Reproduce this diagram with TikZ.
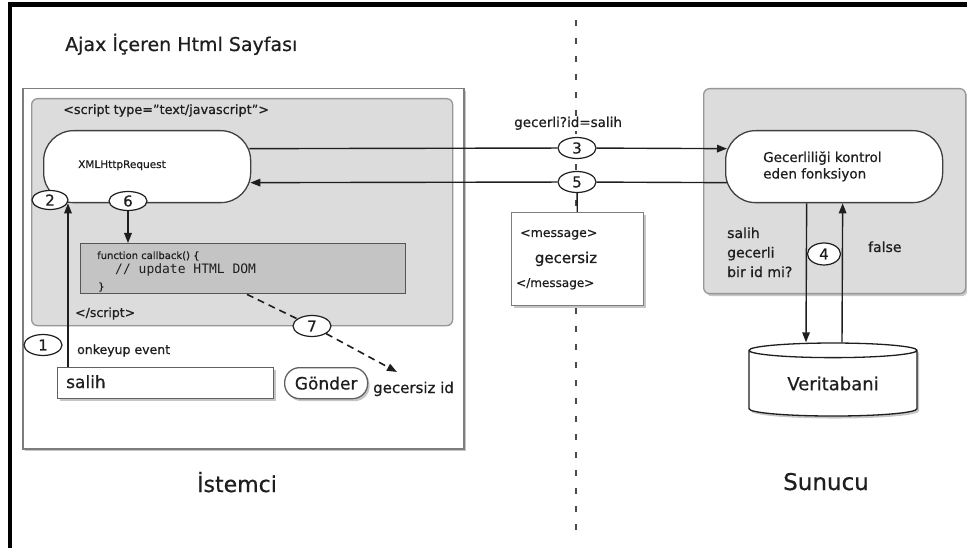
\documentclass[tikz,border=0pt]{standalone}
\usepackage{fontspec}
\setmainfont{DejaVu Sans}[FakeBold=0.6]
\setmonofont{DejaVu Sans Mono}
\usetikzlibrary{shapes.geometric,arrows.meta,shadows}

\definecolor{ink}{RGB}{30,30,30}
\definecolor{panel}{RGB}{220,220,220}
\definecolor{codebg}{RGB}{196,196,196}
\definecolor{edge}{RGB}{125,125,125}
\newcommand{\txtsize}[1]{\fontsize{#1}{#1}\selectfont}

\tikzset{
  lbl/.style={inner sep=0pt, text=ink, anchor=base west},
  ctr/.style={inner sep=0pt, text=ink, anchor=base},
  shade/.style={drop shadow={shadow xshift=2pt, shadow yshift=-2.5pt, opacity=0.45, fill=gray}},
  outerbox/.style={draw=edge, line width=1.5pt, fill=white, anchor=north west, inner sep=0pt, shade},
  panelbox/.style={draw=edge!80, line width=1.3pt, fill=panel, rounded corners=6pt, anchor=north west, inner sep=0pt},
  codebox/.style={draw=ink!75, line width=1.4pt, fill=codebg, anchor=north west, inner sep=0pt},
  pill/.style={draw=ink!85, line width=1.3pt, fill=white, rounded corners=30pt, anchor=north west, inner sep=0pt},
  field/.style={draw=ink!70, line width=1.3pt, fill=white, anchor=north west, inner sep=0pt, shade},
  num/.style={ellipse, draw=ink, line width=1.2pt, fill=white, minimum width=38pt, minimum height=21pt,
              inner sep=0pt, text=ink, font=\txtsize{15}},
  conn/.style={draw=ink, line width=1.4pt},
  tip/.style={-{Triangle[length=10pt,width=7.5pt]}},
  dashconn/.style={draw=ink, line width=1.6pt, dash pattern=on 7pt off 5pt},
  sepline/.style={draw=ink!80, line width=2.2pt, dash pattern=on 6pt off 12pt},
}

\begin{document}
\begin{tikzpicture}[x=1pt,y=-1pt]
  \useasboundingbox (0,0) rectangle (967,548);

  % frame bars on the top and left edges
  \fill[black] (8,2) rectangle (967,7);
  \fill[black] (8,2) rectangle (12,548);

  % client / server separator
  \coordinate (septop) at (576,20);
  \coordinate (sepbot) at (576,537);
  \draw[sepline] (septop) -- (sepbot);

  % ---------- client side ----------
  \node[lbl, font=\txtsize{19}] (title) at (65,51) {Ajax İçeren Html Sayfası};
  \node[outerbox, minimum width=441pt, minimum height=360pt] (client) at (22,88) {};
  \node[panelbox, minimum width=421pt, minimum height=227pt] (script) at (31,98) {};
  \node[lbl, font=\txtsize{12.8}] (scriptopen) at (63,114) {<script type="text/javascript">};

  \node[pill, minimum width=207pt, minimum height=72pt] (xhr) at (43,130) {};
  \node[lbl, font=\txtsize{10.5}] (xhrtext) at (78,168) {XMLHttpRequest};

  \node[codebox, minimum width=325pt, minimum height=50pt] (cb) at (80,243) {};
  \node[lbl, font=\txtsize{10}] (cbline1) at (97,259) {function callback() \{};
  \node[lbl, font=\ttfamily\txtsize{13}] (cbline2) at (115,274) {// update HTML DOM};
  \node[lbl, font=\txtsize{10}] (cbline3) at (98,290) {\}};
  \node[lbl, font=\txtsize{12.5}] (scriptclose) at (75,317) {</script>};

  \node[lbl, font=\txtsize{12.5}] (keyup) at (77,354) {onkeyup event};
  \node[field, minimum width=216pt, minimum height=31pt] (salih) at (57,367) {};
  \node[lbl, font=\txtsize{17}] (salihtext) at (66,388) {salih};
  \node[field, rounded corners=15pt, minimum width=83pt, minimum height=31pt, font=\txtsize{17}, text=ink] (send) at (284,367) {Gönder};
  \node[lbl, font=\txtsize{15}] (invalid) at (373,393) {gecersiz id};
  \coordinate (invalidtip) at (397,372);

  \node[ctr, font=\txtsize{22}] (clientname) at (237,492) {İstemci};

  % ---------- message in transit ----------
  \node[lbl, font=\txtsize{13.5}, fill=white, inner sep=1pt] (query) at (513,127) {gecerli?id=salih};
  \node[field, draw=edge, minimum width=132pt, minimum height=93pt] (msg) at (511,212) {};
  \node[lbl, font=\txtsize{12.5}] (msgopen) at (520,237) {<message>};
  \node[ctr, font=\txtsize{15}] (msgbody) at (566,263) {gecersiz};
  \node[lbl, font=\txtsize{12}] (msgclose) at (516,287) {</message>};

  % ---------- server side ----------
  \node[panelbox, minimum width=262pt, minimum height=205pt, shade] (server) at (703,88) {};
  \node[pill, minimum width=217pt, minimum height=72pt] (valid) at (725,130) {};
  % multi-line labels are placed by the baseline of their last line
  \node[lbl, font=\fontsize{13.5}{16.5}\selectfont, align=left] (validtext) at (763,178.5)
       {Gecerliliği kontrol\\eden fonksiyon};
  \node[lbl, font=\fontsize{14}{19.5}\selectfont, align=left] (question) at (727,277)
       {salih\\gecerli\\bir id mi?};
  \node[lbl, font=\txtsize{14}] (false) at (868,252) {false};

  \node[cylinder, shape border rotate=90, aspect=0.16, draw=ink, line width=1.3pt, fill=white,
        minimum width=168pt, minimum height=73pt, inner sep=0pt, text=ink, font=\txtsize{18}, shade]
       (db) at (833,383.5) {Veritabani};

  \node[ctr, font=\txtsize{23}] (servername) at (826,490) {Sunucu};

  % ---------- connectors ----------
  \draw[conn, tip] ([xshift=11pt]salih.north west) -- ([xshift=25pt]xhr.south west);
  \node[num] (n1) at (43,345) {1};
  \node[num, minimum width=36pt, minimum height=19pt] (n2) at (50,200) {2};

  \node[num, minimum height=19pt] (n6) at (128,201) {6};
  \draw[conn, tip] (n6) -- (n6 |- cb.north);

  \node[num] (n7) at (312,326) {7};
  \draw[dashconn] ([xshift=167pt]cb.south west) -- (n7);
  \draw[dashconn, tip] (n7) -- (invalidtip);

  \node[num] (n3) at (577,148) {3};
  \node[num] (n5) at (577,182) {5};
  \draw[conn] ([shift={(-2,-18)}]xhr.east) -- (n3);
  \draw[conn, tip] (n3) -- ([shift={(2,-18)}]valid.west);
  \draw[conn] ([shift={(2,16)}]valid.west) -- (n5);
  \draw[conn, tip] (n5) -- ([shift={(-1,16)}]xhr.east);
  \draw[conn] (n5) -- (msg);

  \draw[conn, tip] ([xshift=-27.5pt]valid.south) -- ([xshift=-27pt]db.north);
  \draw[conn, tip] ([xshift=9pt]db.north) -- ([xshift=8.5pt]valid.south);
  \node[num, minimum width=33pt, minimum height=22pt] (n4) at (824,254) {4};
\end{tikzpicture}
\end{document}
